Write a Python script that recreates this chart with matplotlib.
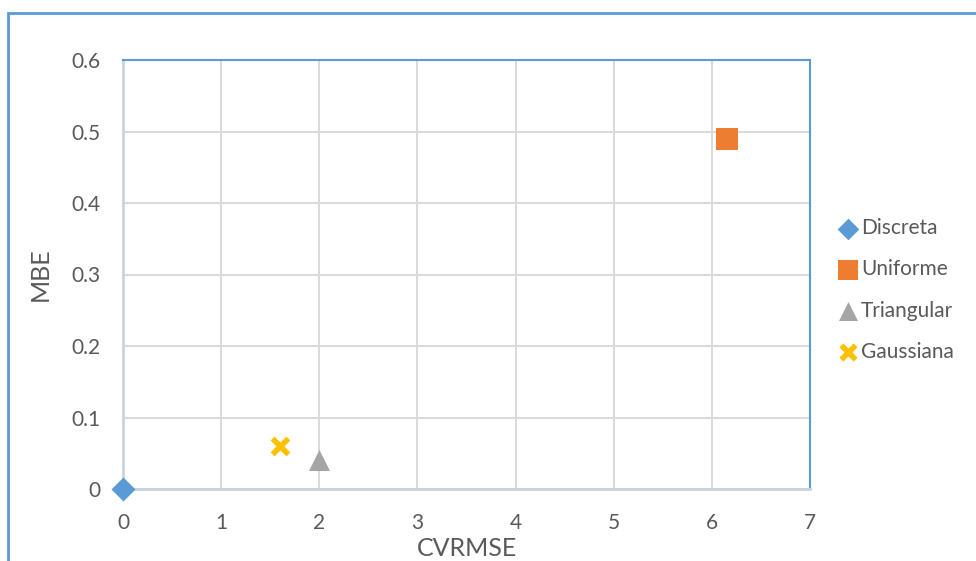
import matplotlib
matplotlib.use("Agg")
import matplotlib.pyplot as plt
from matplotlib.patches import Rectangle

# Error metrics per distribution
series = ["Discreta", "Uniforme", "Triangular", "Gaussiana"]
cvrmse = [0.0, 6.15, 2.0, 1.6]
mbe = [0.0, 0.49, 0.04, 0.06]

colors = ["#5b9bd5", "#ed7d31", "#a5a5a5", "#ffc000"]
markers = ["D", "s", "^", "x"]
sizes = [150, 260, 230, 130]
edge_widths = [0, 0, 0, 4]

xticks = [0, 1, 2, 3, 4, 5, 6, 7]
yticks = [0, 0.1, 0.2, 0.3, 0.4, 0.5, 0.6]
ytick_labels = ["0", "0.1", "0.2", "0.3", "0.4", "0.5", "0.6"]

plt.rcParams["font.family"] = ["Lato", "DejaVu Sans"]

W, H = 976, 561
fig = plt.figure(figsize=(W / 100, H / 100), dpi=100)
ax = fig.add_axes([123 / W, 1 - 489 / H, (810 - 123) / W, (489 - 60) / H])

for name, x, y, c, m, s, lw in zip(series, cvrmse, mbe, colors, markers, sizes, edge_widths):
    ax.scatter([x], [y], s=s, marker=m, color=c, label=name, zorder=5,
               clip_on=False, linewidths=lw)

ax.set_xlim(0, 7)
ax.set_ylim(0, 0.6)
ax.set_xticks(xticks)
ax.set_yticks(yticks)
ax.set_yticklabels(ytick_labels)
ax.grid(True, color="#d9d9d9", linewidth=1.4)
ax.set_axisbelow(True)
ax.tick_params(length=0, labelsize=15, labelcolor="#595959")
ax.tick_params(axis="x", pad=17)
ax.tick_params(axis="y", pad=16)

ax.spines["left"].set_color("#c9d3df")
ax.spines["bottom"].set_color("#c9d3df")
ax.spines["left"].set_linewidth(2)
ax.spines["bottom"].set_linewidth(2)
ax.spines["top"].set_color("#5b9bd5")
ax.spines["right"].set_color("#5b9bd5")
ax.spines["top"].set_linewidth(1.5)
ax.spines["right"].set_linewidth(1.5)

ax.set_xlabel("CVRMSE", fontsize=18, color="#595959", labelpad=3)
ax.set_ylabel("MBE", fontsize=18, color="#595959", labelpad=14)

leg = ax.legend(loc="upper left", bbox_to_anchor=(1.027, 0.651), frameon=False,
                fontsize=15, labelcolor="#595959", handletextpad=0.05,
                handlelength=1.1, labelspacing=1.02, borderaxespad=0,
                markerscale=0.9)

# Outer chart border
fig.patches.append(Rectangle((8 / W, -0.1), 1.2, 1 - 13 / H + 0.1,
                             transform=fig.transFigure, fill=False,
                             edgecolor="#5b9bd5", linewidth=2))

fig.savefig("out.png", dpi=100)
